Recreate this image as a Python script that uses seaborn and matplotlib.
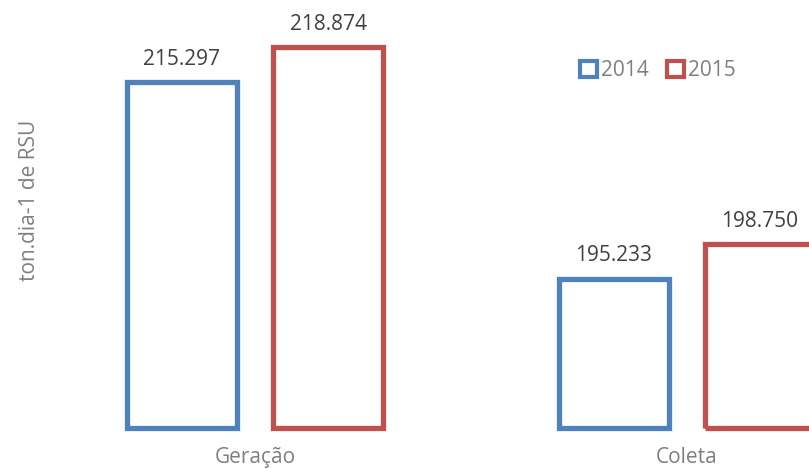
import matplotlib
matplotlib.use("Agg")
import matplotlib.pyplot as plt
from matplotlib.patches import Patch
import seaborn as sns
import pandas as pd

categories = ["Geração", "Coleta"]
years = ["2014", "2015"]
values_2014 = [215297, 195233]
values_2015 = [218874, 198750]
y_label = "ton.dia-1 de RSU"
y_min, y_max = 180000, 220000

colors = {"2014": "#4F81BD", "2015": "#C0504D"}

df = pd.DataFrame({
    "categoria": categories * 2,
    "ano": [years[0]] * 2 + [years[1]] * 2,
    "valor": values_2014 + values_2015,
})

sns.set_theme(style="white")
plt.rcParams["font.family"] = ["Open Sans", "DejaVu Sans"]

fig = plt.figure(figsize=(8.09, 4.69), dpi=100)
ax = fig.add_axes([39 / 809, 1 - 428 / 469, 864 / 809, 392 / 469])

sns.barplot(data=df, x="categoria", y="valor", hue="ano", palette=colors,
            order=categories, hue_order=years, fill=False, linewidth=3.8,
            width=0.676, gap=0.245, ax=ax, legend=False)

# start the bars at the axis minimum (truncated value axis)
for cont in ax.containers:
    for b in cont:
        top = b.get_y() + b.get_height()
        b.set_y(y_min)
        b.set_height(top - y_min)
        b.set_clip_on(False)

ax.set_ylim(y_min, y_max)
ax.set_xlim(-0.5, 1.5)
for s in ax.spines.values():
    s.set_visible(False)
ax.set_yticks([])
ax.tick_params(axis="x", length=0, labelsize=15, labelcolor="#7F7F7F", pad=14)
ax.set_xlabel("")
ax.set_ylabel("")
fig.text(30 / 809, 1 - 200 / 469, y_label, rotation=90, ha="center", va="center",
         fontsize=15, color="#7F7F7F")

def fmt(v):
    return f"{v:,}".replace(",", ".")

for cont in ax.containers:
    labels = [fmt(int(round(b.get_y() + b.get_height()))) for b in cont]
    ax.bar_label(cont, labels=labels, padding=9, fontsize=15, color="#404040")

handles = [Patch(facecolor="white", edgecolor=colors[y], linewidth=3, label=y) for y in years]
fig.legend(handles=handles, loc="center", bbox_to_anchor=(658 / 809, 1 - 71 / 469),
           ncol=2, frameon=False, fontsize=15, labelcolor="#7F7F7F",
           handlelength=0.8, handleheight=0.8, handletextpad=0.2, columnspacing=0.9)

fig.savefig("out.png", dpi=100)
